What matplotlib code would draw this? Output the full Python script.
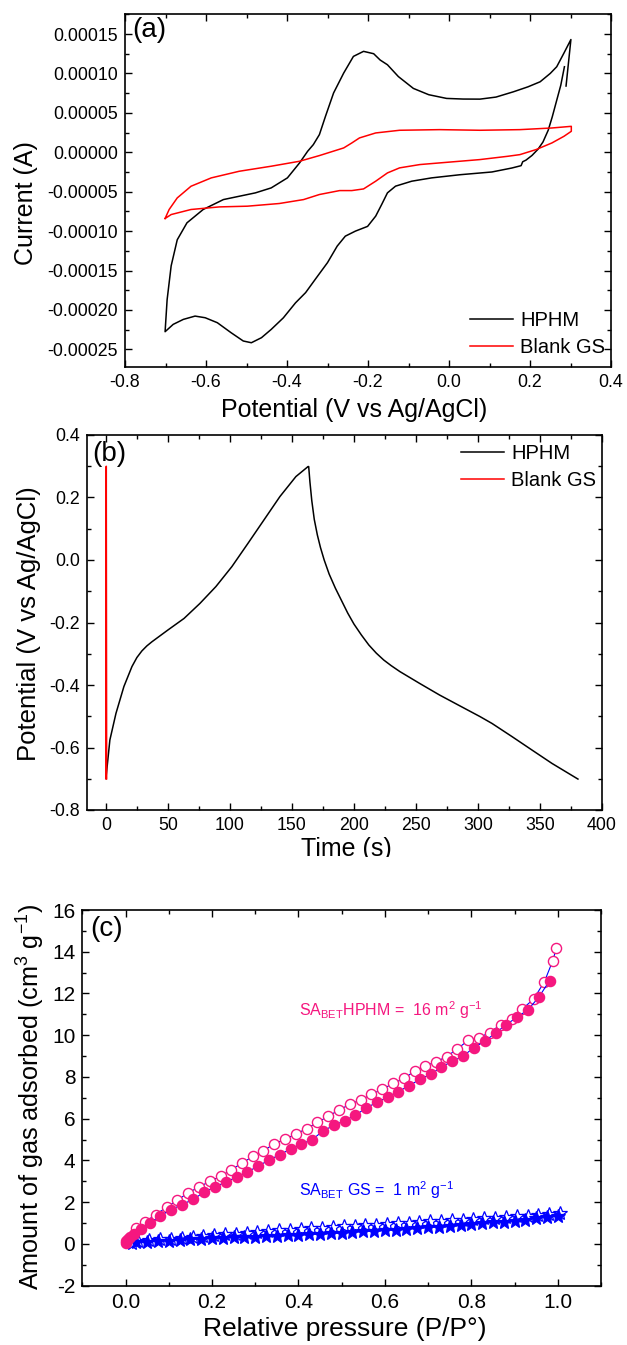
import matplotlib
matplotlib.use('Agg')
import matplotlib.pyplot as plt
from matplotlib.ticker import MultipleLocator, FormatStrFormatter
from matplotlib.patches import Rectangle

plt.rcParams['font.family'] = ['Liberation Sans', 'DejaVu Sans']
plt.rcParams['mathtext.fontset'] = 'custom'
plt.rcParams['mathtext.rm'] = 'Liberation Sans'
plt.rcParams['mathtext.it'] = 'Liberation Sans:italic'
plt.rcParams['axes.unicode_minus'] = False

# ---------------- data ----------------
# (a) cyclic voltammetry
cv_hphm_v = [0.285, 0.276, 0.266, 0.255, 0.245, 0.232, 0.220, 0.205, 0.190, 0.182, 0.178, 0.155,
             0.106, 0.027, -0.043, -0.092, -0.132, -0.152, -0.166, -0.181, -0.201, -0.231, -0.256,
             -0.276, -0.300, -0.330, -0.354, -0.379, -0.409, -0.439, -0.463, -0.488, -0.508, -0.538,
             -0.572, -0.602, -0.627, -0.656, -0.681, -0.701,
             -0.696, -0.686, -0.671, -0.647, -0.607, -0.557, -0.478, -0.439, -0.399, -0.369, -0.349,
             -0.335, -0.320, -0.305, -0.285, -0.260, -0.236, -0.211, -0.186, -0.170, -0.152, -0.125,
             -0.088, -0.050, -0.006, 0.035, 0.0765, 0.116, 0.159, 0.195, 0.225, 0.250, 0.266, 0.284,
             0.301, 0.289]
cv_hphm_i = [1.085e-4, 8.5e-5, 6.6e-5, 4.5e-5, 2.8e-5, 1.3e-5, 4e-6, -4e-6, -1.0e-5, -1.2e-5, -1.7e-5, -2.0e-5,
             -2.5e-5, -2.85e-5, -3.25e-5, -3.67e-5, -4.3e-5, -5.15e-5, -6.6e-5, -8.1e-5, -9.4e-5, -1.0e-4, -1.064e-4,
             -1.19e-4, -1.40e-4, -1.61e-4, -1.78e-4, -1.91e-4, -2.10e-4, -2.247e-4, -2.352e-4, -2.416e-4, -2.394e-4, -2.289e-4,
             -2.162e-4, -2.099e-4, -2.078e-4, -2.12e-4, -2.183e-4, -2.276e-4,
             -1.87e-4, -1.44e-4, -1.11e-4, -8.95e-5, -7.26e-5, -6.0e-5, -5.15e-5, -4.52e-5, -3.25e-5, -1.35e-5, 1.3e-6,
             9.7e-6, 2.24e-5, 4.56e-5, 7.52e-5, 1.005e-4, 1.216e-4, 1.28e-4, 1.25e-4, 1.17e-4, 1.11e-4, 9.6e-5,
             8.1e-5, 7.3e-5, 6.83e-5, 6.75e-5, 6.74e-5, 7.0e-5, 7.67e-5, 8.3e-5, 8.94e-5, 1.0e-4, 1.085e-4, 1.26e-4,
             1.43e-4, 8.4e-5]

cv_gs_v = [-0.701, -0.691, -0.671, -0.637, -0.587, -0.518, -0.439, -0.369, -0.320, -0.260, -0.240, -0.221,
           -0.181, -0.122, -0.023, 0.076, 0.175, 0.254, 0.302,
           0.302, 0.284, 0.254, 0.215, 0.175, 0.145, 0.076, -0.023, -0.072, -0.122, -0.152, -0.181, -0.211,
           -0.240, -0.270, -0.320, -0.359, -0.419, -0.498, -0.567, -0.637, -0.686, -0.701]
cv_gs_i = [-8.4e-5, -7.26e-5, -5.79e-5, -4.31e-5, -3.25e-5, -2.41e-5, -1.77e-5, -1.14e-5, -4.2e-6, 5.5e-6, 1.18e-5, 1.82e-5,
           2.45e-5, 2.79e-5, 2.87e-5, 2.79e-5, 2.87e-5, 3.08e-5, 3.29e-5,
           2.66e-5, 2.03e-5, 1.18e-5, 3.4e-6, -3.0e-6, -5.1e-6, -9.3e-6, -1.35e-5, -1.56e-5, -1.98e-5, -2.62e-5, -3.67e-5, -4.65e-5,
           -4.86e-5, -4.86e-5, -5.36e-5, -6.0e-5, -6.5e-5, -6.84e-5, -6.93e-5, -7.26e-5, -7.9e-5, -8.4e-5]

# (b) galvanostatic charge/discharge
gcd_hphm_t = [0, 1.0, 3.2, 8.1, 14.5, 21, 25, 29, 33, 37, 50, 63, 75.8, 88.7, 101.6, 114.5, 127.4, 140.3,
              153.2, 163,
              163.5, 164.5, 166, 168, 170.5, 173, 176, 180, 185, 190, 195, 200, 206, 212, 218, 224,
              230, 237, 253, 269, 285.5, 301.6, 311.3, 327.4, 343.5, 359.7, 380.6]
gcd_hphm_v = [-0.699, -0.661, -0.576, -0.491, -0.405, -0.341, -0.312, -0.291, -0.275, -0.262, -0.224, -0.187,
              -0.139, -0.085, -0.021, 0.053, 0.128, 0.203, 0.267, 0.299,
              0.299, 0.250, 0.190, 0.130, 0.080, 0.040, 0.000, -0.045, -0.090, -0.130, -0.170, -0.205,
              -0.240, -0.272, -0.298, -0.320, -0.338, -0.357, -0.395, -0.432, -0.467, -0.501, -0.523,
              -0.565, -0.608, -0.651, -0.701]
gcd_gs_t = [0.0, 0.3, 0.6]
gcd_gs_v = [-0.70, 0.30, -0.70]

# (c) N2 sorption isotherms
hphm_ads_p = [0.0005, 0.002, 0.005, 0.01, 0.02, 0.035, 0.057, 0.080, 0.106, 0.131, 0.156, 0.182, 0.207, 0.232,
              0.257, 0.282, 0.306, 0.331, 0.357, 0.382, 0.407, 0.432, 0.457, 0.482, 0.507, 0.532, 0.557,
              0.582, 0.607, 0.631, 0.656, 0.681, 0.706, 0.731, 0.756, 0.781, 0.806, 0.831, 0.856, 0.881,
              0.906, 0.931, 0.956, 0.981]
hphm_ads_q = [0.05, 0.15, 0.25, 0.35, 0.50, 0.70, 1.02, 1.34, 1.65, 1.89, 2.13, 2.48, 2.73, 2.97,
              3.20, 3.45, 3.72, 4.01, 4.28, 4.55, 4.79, 5.00, 5.42, 5.68, 5.91, 6.17, 6.52,
              6.79, 7.04, 7.30, 7.58, 7.89, 8.13, 8.48, 8.75, 9.00, 9.41, 9.71, 10.11, 10.51,
              10.87, 11.22, 11.82, 12.61]
hphm_des_p = [0.997, 0.988, 0.969, 0.944, 0.918, 0.893, 0.868, 0.843, 0.818, 0.793, 0.768, 0.743, 0.718,
              0.693, 0.669, 0.644, 0.619, 0.594, 0.569, 0.544, 0.519, 0.494, 0.469, 0.444, 0.419, 0.394,
              0.369, 0.344, 0.319, 0.295, 0.270, 0.245, 0.220, 0.195, 0.170, 0.145, 0.120, 0.095, 0.070,
              0.045, 0.025]
hphm_des_q = [14.18, 13.55, 12.56, 11.73, 11.26, 10.80, 10.51, 10.13, 9.89, 9.75, 9.36, 8.97, 8.73,
              8.52, 8.28, 7.93, 7.69, 7.41, 7.17, 6.90, 6.69, 6.42, 6.12, 5.82, 5.53, 5.26,
              5.02, 4.79, 4.47, 4.20, 3.88, 3.56, 3.24, 3.00, 2.73, 2.45, 2.10, 1.76, 1.41,
              1.05, 0.78]
gs_ads_p = [0.025, 0.05, 0.075, 0.1, 0.125, 0.15, 0.175, 0.2, 0.225, 0.25, 0.275, 0.3, 0.325, 0.35, 0.375,
            0.4, 0.425, 0.45, 0.475, 0.5, 0.525, 0.55, 0.575, 0.6, 0.625, 0.65, 0.675, 0.7, 0.725, 0.75,
            0.775, 0.8, 0.825, 0.85, 0.875, 0.9, 0.925, 0.95, 0.975, 1.0]
gs_ads_q = [0.08, 0.10, 0.13, 0.16, 0.19, 0.22, 0.24, 0.27, 0.29, 0.31, 0.33, 0.35, 0.37, 0.39, 0.41,
            0.43, 0.46, 0.48, 0.51, 0.54, 0.57, 0.60, 0.63, 0.66, 0.69, 0.72, 0.76, 0.79, 0.83, 0.87,
            0.91, 0.95, 0.99, 1.03, 1.07, 1.12, 1.17, 1.22, 1.28, 1.35]
gs_des_p = [1.005, 0.98, 0.955, 0.93, 0.905, 0.88, 0.855, 0.83, 0.805, 0.78, 0.755, 0.73, 0.705, 0.68,
            0.655, 0.63, 0.605, 0.58, 0.555, 0.53, 0.505, 0.48, 0.455, 0.43, 0.405, 0.38, 0.355, 0.33,
            0.305, 0.28, 0.255, 0.23, 0.205, 0.18, 0.155, 0.13, 0.105, 0.08, 0.055, 0.03, 0.015]
gs_des_q = [1.50, 1.42, 1.38, 1.35, 1.32, 1.29, 1.26, 1.23, 1.20, 1.17, 1.14, 1.11, 1.08, 1.05,
            1.02, 0.99, 0.96, 0.93, 0.90, 0.87, 0.84, 0.81, 0.78, 0.75, 0.72, 0.69, 0.66, 0.62,
            0.58, 0.54, 0.50, 0.46, 0.42, 0.38, 0.34, 0.30, 0.26, 0.22, 0.18, 0.12, 0.05]

series_names = ['HPHM', 'Blank GS']
ann_hphm = r'SA$_{\mathrm{BET}}$HPHM =  16 m$^{2}$ g$^{-1}$'
ann_gs = r'SA$_{\mathrm{BET}}$ GS =  1 m$^{2}$ g$^{-1}$'

# ---------------- layout ----------------
W, H = 627, 1345
fig = plt.figure(figsize=(W / 100, H / 100), dpi=100)
fig.patch.set_facecolor('white')


def rect(l, t, r, b):
    return [l / W, 1 - b / H, (r - l) / W, (b - t) / H]


PINK = '#F5177F'
BLUE = '#0000FF'
RED = '#FF0000'


def style(ax, xmaj, xmin, ymaj, ymin, fs):
    for s in ax.spines.values():
        s.set_linewidth(1.2)
    ax.xaxis.set_major_locator(MultipleLocator(xmaj))
    ax.xaxis.set_minor_locator(MultipleLocator(xmin))
    ax.yaxis.set_major_locator(MultipleLocator(ymaj))
    ax.yaxis.set_minor_locator(MultipleLocator(ymin))
    ax.tick_params(which='both', direction='in', top=True, right=True, labelsize=fs, width=1.0)
    ax.tick_params(which='major', length=5)
    ax.tick_params(which='minor', length=3)
    ax.tick_params(axis='x', pad=5)
    ax.tick_params(axis='y', pad=5)


# ---- (a)
ax = fig.add_axes(rect(125, 14.3, 611, 366.7))
ax.plot(cv_hphm_v, cv_hphm_i, color='black', lw=1.1, label=series_names[0])
ax.plot(cv_gs_v, cv_gs_i, color=RED, lw=1.1, label=series_names[1])
ax.set_xlim(-0.8, 0.4)
ax.set_ylim(-0.000272, 0.000175)
style(ax, 0.2, 0.1, 0.00005, 0.000025, 12.8)
ax.xaxis.set_major_formatter(FormatStrFormatter('%.1f'))
ax.yaxis.set_major_formatter(FormatStrFormatter('%.5f'))
ax.set_xlabel('Potential (V vs Ag/AgCl)', fontsize=18, va='top')
ax.xaxis.set_label_coords(0.472, -0.088)
ax.set_ylabel('Current (A)', fontsize=18, va='center')
ax.yaxis.set_label_coords(-0.204, 0.465)
ax.text(0.015, 0.955, '(a)', transform=ax.transAxes, fontsize=20, va='center', ha='left')
ax.legend(loc='upper left', bbox_to_anchor=(0.71, 0.158), frameon=False, fontsize=14.5,
          handlelength=2.15, handletextpad=0.35, labelspacing=0.4, borderpad=0, borderaxespad=0)

# ---- (b)
ax = fig.add_axes(rect(87.3, 435, 602, 810))
ax.plot(gcd_hphm_t, gcd_hphm_v, color='black', lw=1.1, label=series_names[0])
ax.plot(gcd_gs_t, gcd_gs_v, color=RED, lw=1.1, label=series_names[1])
ax.set_xlim(-15, 400)
ax.set_ylim(-0.8, 0.4)
style(ax, 50, 25, 0.2, 0.1, 12.8)
ax.xaxis.set_major_formatter(FormatStrFormatter('%d'))
ax.yaxis.set_major_formatter(FormatStrFormatter('%.1f'))
ax.set_xlabel('Time (s)', fontsize=18, va='top')
ax.xaxis.set_label_coords(0.503, -0.071)
ax.set_ylabel('Potential (V vs Ag/AgCl)', fontsize=18.5, va='center')
ax.yaxis.set_label_coords(-0.113, 0.496)
ax.text(0.01, 0.95, '(b)', transform=ax.transAxes, fontsize=20, va='center', ha='left', zorder=0)
ax.legend(loc='upper left', bbox_to_anchor=(0.726, 0.975), frameon=False, fontsize=14.5,
          handlelength=2.15, handletextpad=0.35, labelspacing=0.4, borderpad=0, borderaxespad=0)

# ---- (c)
ax = fig.add_axes(rect(82.3, 910, 601, 1285.7))
ax.plot(gs_des_p, gs_des_q, '-', color=BLUE, lw=0.8, marker='*', ms=10.5, mfc='white', mec=BLUE, mew=0.9)
ax.plot(gs_ads_p, gs_ads_q, '-', color=BLUE, lw=0.8, marker='*', ms=10.5, mfc=BLUE, mec=BLUE, mew=0.9)
ax.plot(hphm_des_p, hphm_des_q, '-', color=BLUE, lw=0.8, marker='o', ms=7.3, mfc='white', mec=PINK, mew=1.0)
ax.plot(hphm_ads_p, hphm_ads_q, '-', color=BLUE, lw=0.8, marker='o', ms=7.3, mfc=PINK, mec=PINK, mew=1.0)
ax.set_xlim(-0.1, 1.1)
ax.set_ylim(-2, 16)
style(ax, 0.2, 0.1, 2, 1, 15)
ax.xaxis.set_major_formatter(FormatStrFormatter('%.1f'))
ax.yaxis.set_major_formatter(FormatStrFormatter('%d'))
ax.set_xlabel('Relative pressure (P/P°)', fontsize=19, va='top')
ax.xaxis.set_label_coords(0.506, -0.082)
ax.set_ylabel(r'Amount of gas adsorbed (cm$^{3}$ g$^{-1}$)', fontsize=18.2, va='center')
ax.yaxis.set_label_coords(-0.099, 0.502)
ax.text(0.015, 0.95, '(c)', transform=ax.transAxes, fontsize=20, va='center', ha='left')
ax.text(0.417, 0.733, ann_hphm, transform=ax.transAxes, color=PINK, fontsize=11.5, va='center', ha='left')
ax.text(0.417, 0.255, ann_gs, transform=ax.transAxes, color=BLUE, fontsize=11.5, va='center', ha='left')

# crop the bottom of panel (b)'s x label, as in the composite reference
fig.patches.append(Rectangle((0, 1 - 880 / H), 1, (880 - 857) / H, transform=fig.transFigure,
                             facecolor='white', edgecolor='none', zorder=50))

fig.savefig('out.png', dpi=100, facecolor='white')
